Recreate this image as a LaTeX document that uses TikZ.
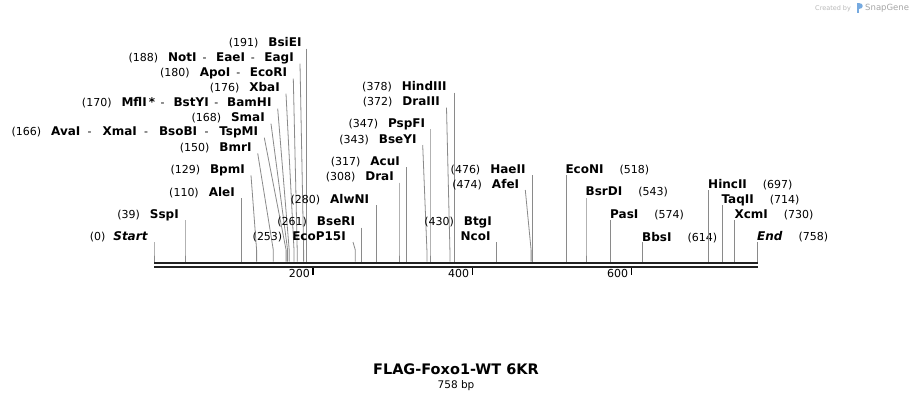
\documentclass[tikz,border=0pt]{standalone}
\usepackage{fontspec}
\setmainfont{DejaVu Sans}
\newcommand\rgsize{\fontsize{11}{12}\selectfont}
\newcommand\enz[1]{{\fontsize{12}{13}\selectfont\bfseries #1}}
\newcommand\enzsep{\hspace{6pt}-\hspace{9.5pt}}
\newcommand\enzsepw{\hspace{7.3pt}-\hspace{10.9pt}}
\newcommand\gapL{\hspace{10pt}}
\newcommand\gapR{\hspace{16pt}}
\definecolor{sitegray}{HTML}{8A8A8A}
\definecolor{barcol}{HTML}{222222}
\begin{document}
\begin{tikzpicture}[x=1pt,y=-1pt,
  lbl/.style={inner sep=0pt, font=\rgsize, text=black},
  lblL/.style={lbl, anchor=base east},
  lblR/.style={lbl, anchor=base west},
  site/.style={draw=sitegray, line width=0.8pt},
  bar/.style={draw=barcol, line width=2.4pt},
  tick/.style={draw=black, line width=1.4pt},
  ticklbl/.style={inner sep=0pt, anchor=base east, font=\rgsize}]
\fill[white] (0,0) rectangle (912,400);
\useasboundingbox (0,0) rectangle (912,400);

% site line macro: id, cut x, top x, top y
\newcommand\cutline[4]{%
  \coordinate (#1t) at (#3,#4);
  \coordinate (#1b) at (#2,250);
  \coordinate (#1r) at (#2,261.5);
  \draw[site] (#1t) -- (#1b) -- (#1r);}

% ruler
\coordinate (r1a) at (154,262.8); \coordinate (r1b) at (757.6,262.8);
\coordinate (r2a) at (154,267.0); \coordinate (r2b) at (757.6,267.0);
\draw[bar] (r1a) -- (r1b);
\draw[bar] (r2a) -- (r2b);
\foreach \p/\x in {200/313.1,400/472.2,600/631.3}{
  \coordinate (tk\p a) at (\x,268);
  \coordinate (tk\p b) at (\x,275);
  \draw[tick] (tk\p a) -- (tk\p b);
  \node[ticklbl] (tl\p) at (\x-3,277) {\p};
}

% left-side labels
\cutline{start}{154}{154}{242}
\node[lblL] (Lstart) at (147.7,240.7) {(0)\hspace{8pt}\enz{\itshape Start}};
\cutline{ssp}{185}{185}{220}
\node[lblL] (Lssp) at (179,218) {(39)\gapL\enz{SspI}};
\cutline{ale}{241.5}{241.5}{198}
\node[lblL] (Lale) at (235,196.3) {(110)\gapL\enz{AleI}};
\cutline{bpm}{256.6}{251}{175.3}
\node[lblL] (Lbpm) at (245,173.3) {(129)\gapL\enz{BpmI}};
\cutline{bmr}{273.3}{257.7}{153.3}
\node[lblL] (Lbmr) at (251.7,151.3) {(150)\gapL\enz{BmrI}};
\cutline{ava}{286.1}{264.3}{137.7}
\node[lblL] (Lava) at (258.3,135.7) {(166)\gapL\enz{AvaI}\enzsepw\enz{XmaI}\enzsepw\enz{BsoBI}\enzsepw\enz{TspMI}};
\cutline{sma}{287.6}{271}{123.7}
\node[lblL] (Lsma) at (265,121.7) {(168)\gapL\enz{SmaI}};
\cutline{mfl}{289.2}{277.7}{108.7}
\node[lblL] (Lmfl) at (271.7,106.7) {(170)\gapL\enz{MflI\,*}\hspace{5.5pt}-\hspace{9pt}\enz{BstYI}\hspace{5.5pt}-\hspace{9pt}\enz{BamHI}};
\cutline{xba}{294.0}{286}{93.7}
\node[lblL] (Lxba) at (280,91.7) {(176)\gapL\enz{XbaI}};
\cutline{apo}{297.2}{293.3}{78.7}
\node[lblL] (Lapo) at (287.3,76.7) {(180)\gapL\enz{ApoI}\enzsep\enz{EcoRI}};
\cutline{not}{303.6}{300}{63.7}
\node[lblL] (Lnot) at (294,61.7) {(188)\gapL\enz{NotI}\enzsep\enz{EaeI}\enzsep\enz{EagI}};
\cutline{bsie}{305.9}{305.9}{48.7}
\node[lblL] (Lbsie) at (301.7,46.7) {(191)\gapL\enz{BsiEI}};

% middle labels
\cutline{ecop}{355.3}{353}{242}
\node[lblL] (Lecop) at (346,240.5) {(253)\gapL\enz{EcoP15I}};
\cutline{bser}{361.6}{361.6}{227.7}
\node[lblL] (Lbser) at (355.3,225.7) {(261)\gapL\enz{BseRI}};
\cutline{alwn}{376.7}{376.7}{205.3}
\node[lblL] (Lalwn) at (369.3,203.3) {(280)\gapL\enz{AlwNI}};
\cutline{dra}{399}{399}{182.7}
\node[lblL] (Ldra) at (394,180.7) {(308)\gapL\enz{DraI}};
\cutline{acu}{406.2}{406.2}{167}
\node[lblL] (Lacu) at (400,165) {(317)\gapL\enz{AcuI}};
\cutline{bsey}{426.9}{422.7}{145}
\node[lblL] (Lbsey) at (416.7,143) {(343)\gapL\enz{BseYI}};
\cutline{pspf}{430}{430}{129.3}
\node[lblL] (Lpspf) at (425.3,127.3) {(347)\gapL\enz{PspFI}};
\cutline{draiii}{449.9}{446.5}{107.7}
\node[lblL] (Ldraiii) at (440,105.7) {(372)\gapL\enz{DraIII}};
\cutline{hind}{454.7}{454.7}{92.7}
\node[lblL] (Lhind) at (446.7,90.7) {(378)\gapL\enz{HindIII}};
\cutline{nco}{496.1}{496.1}{242.3}
\node[lblL] (Lbtg) at (492,225.7) {(430)\gapL\enz{BtgI}};
\node[lblL] (Lnco) at (490.7,240.7) {\enz{NcoI}};
\cutline{afe}{531.1}{525.3}{190}
\node[lblL] (Lafe) at (519.3,188) {(474)\gapL\enz{AfeI}};
\cutline{hae}{532.7}{532.7}{175}
\node[lblL] (Lhae) at (525.7,173) {(476)\gapL\enz{HaeII}};

% right-side labels
\cutline{econ}{566.1}{566.1}{175}
\node[lblR] (Lecon) at (565.3,173) {\enz{EcoNI}\gapR(518)};
\cutline{bsrd}{586}{586}{198}
\node[lblR] (Lbsrd) at (585.5,195.7) {\enz{BsrDI}\gapR(543)};
\cutline{pas}{610.6}{610.6}{220}
\node[lblR] (Lpas) at (610,218.3) {\enz{PasI}\gapR(574)};
\cutline{bbs}{642.4}{642.4}{242}
\node[lblR] (Lbbs) at (642,241.3) {\enz{BbsI}\gapR(614)};
\cutline{hinc}{708.5}{708.5}{190}
\node[lblR] (Lhinc) at (708,188) {\enz{HincII}\gapR(697)};
\cutline{taq}{722}{722}{205}
\node[lblR] (Ltaq) at (721.3,203) {\enz{TaqII}\gapR(714)};
\cutline{xcm}{734.7}{734.7}{220}
\node[lblR] (Lxcm) at (734.3,218) {\enz{XcmI}\gapR(730)};
\cutline{endl}{757}{757}{242}
\node[lblR] (Lend) at (757,240.7) {\enz{\itshape End}\gapR(758)};

% title
\node[inner sep=0pt, anchor=base, font=\fontsize{14.5}{16}\selectfont\bfseries] (title) at (456,374.5) {FLAG-Foxo1-WT 6KR};
\node[inner sep=0pt, anchor=base, font=\fontsize{10.5}{12}\selectfont] (size) at (456,388) {758 bp};

% credit
\node[inner sep=0pt, anchor=base west, font=\fontsize{6.5}{8}\selectfont, text=gray!55] (cby) at (815,10) {Created by};
\fill[cyan!60!blue!55] (856.5,2.5) rectangle (858.8,13) ;
\fill[cyan!60!blue!55] (858.8,2.5) .. controls (863.5,2.5) and (863.5,9) .. (858.8,9) -- cycle;
\node[inner sep=0pt, anchor=base west, font=\fontsize{8.5}{10}\selectfont, text=gray!70] (sg) at (865,10.5) {SnapGene};
\end{tikzpicture}
\end{document}
